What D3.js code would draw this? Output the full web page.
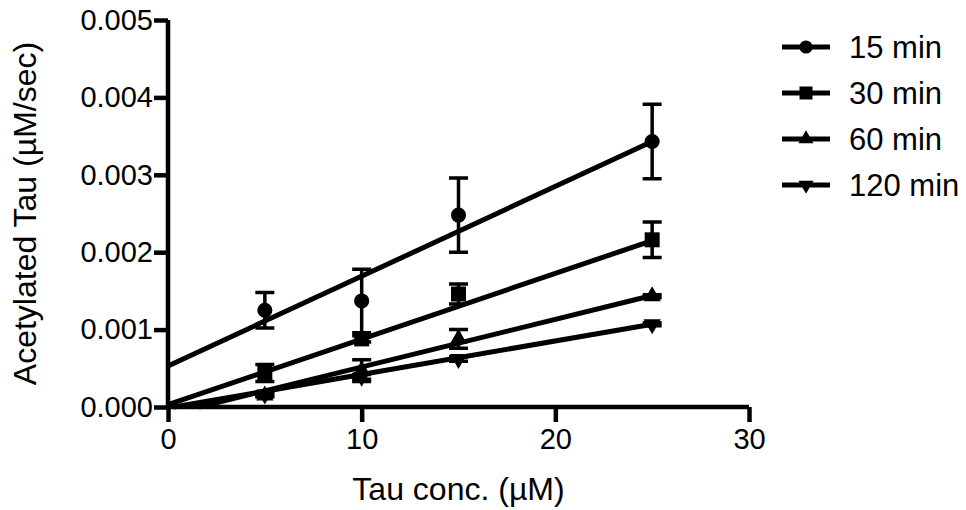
<!DOCTYPE html>
<html>
<head>
<meta charset="utf-8">
<script src="https://cdn.jsdelivr.net/npm/d3@7"></script>
<style>
  html, body { margin: 0; padding: 0; background: #fff; }
  svg { display: block; font-family: "Liberation Sans", Arial, sans-serif; }
</style>
</head>
<body>
<div id="viz"></div>
<script>
// Tau concentrations (µM) used for every time point
var concentrations = [5, 10, 15, 25];
var seriesNames = ["15 min", "30 min", "60 min", "120 min"];

// mean rate (µM/sec) and SD at each concentration
var means15 = [0.00125, 0.00137, 0.00248, 0.00343];
var sd15 = [0.00023, 0.00041, 0.00048, 0.00048];
var means30 = [0.00044, 0.00088, 0.00146, 0.00216];
var sd30 = [0.00011, 0.00004, 0.00013, 0.00023];
var means60 = [0.00015, 0.00047, 0.00088, 0.00143];
var sd60 = [0.00002, 0.00014, 0.00012, 0.00002];
var means120 = [0.00016, 0.00039, 0.00062, 0.00107];
var sd120 = [0.00002, 0.00003, 0.00003, 0.00002];

// linear fits, drawn from (fitStartX, fitStartY) to (25, fitEndY);
// fits with a negative intercept start where they cross zero
var fitStartX = [0, 0, 1.6, 0.3];
var fitStartY = [0.00053, 0.00003, 0, 0];
var fitEndX = 25;
var fitEndY = [0.00343, 0.00215, 0.00144, 0.00107];

var xTicks = [0, 10, 20, 30];
var yTicks = [0, 0.001, 0.002, 0.003, 0.004, 0.005];

var width = 966,
    height = 510;
var margin = {top: 20, right: 217, bottom: 103, left: 168};

var series = [
  {name: seriesNames[0], means: means15, sd: sd15, shape: d3.symbolCircle, size: 180, rot: 0},
  {name: seriesNames[1], means: means30, sd: sd30, shape: d3.symbolSquare, size: 225, rot: 0},
  {name: seriesNames[2], means: means60, sd: sd60, shape: d3.symbolTriangle, size: 130, rot: 0},
  {name: seriesNames[3], means: means120, sd: sd120, shape: d3.symbolTriangle, size: 130, rot: 180}
];
series.forEach(function(s, i) {
  s.fit = [[fitStartX[i], fitStartY[i]], [fitEndX, fitEndY[i]]];
});

var svg = d3.select("#viz").append("svg")
    .attr("width", width)
    .attr("height", height);

var x = d3.scaleLinear().domain([0, 30]).range([margin.left, width - margin.right]);
var y = d3.scaleLinear().domain([0, 0.005]).range([height - margin.bottom, margin.top]);

// axes
var xAxis = svg.append("g")
    .attr("transform", "translate(0," + y(0) + ")")
    .call(d3.axisBottom(x).tickValues(xTicks).tickSize(15).tickPadding(6).tickSizeOuter(0));
var yAxis = svg.append("g")
    .attr("transform", "translate(" + x(0) + ",0)")
    .call(d3.axisLeft(y).tickValues(yTicks).tickFormat(d3.format(".3f")).tickSize(14).tickPadding(1).tickSizeOuter(0));

[xAxis, yAxis].forEach(function(g) {
  g.select(".domain").attr("stroke", "#000").attr("stroke-width", 4.5);
  g.selectAll(".tick line").attr("stroke", "#000").attr("stroke-width", 4.5);
  g.selectAll(".tick text").attr("fill", "#000").style("font-size", "29px");
});
// square off the corner where the two axis lines meet
xAxis.select(".domain").attr("d", "M" + (x(0) - 2.25) + ",0H" + x(30));
yAxis.select(".domain").attr("d", "M0," + (y(0) + 2.25) + "V" + y(0.005));

// axis titles
svg.append("text")
    .attr("x", (x(0) + x(30)) / 2)
    .attr("y", 500)
    .attr("text-anchor", "middle")
    .style("font-size", "32px")
    .text("Tau conc. (µM)");

svg.append("text")
    .attr("transform", "translate(36," + (y(0) + y(0.005)) / 2 + ") rotate(-90)")
    .attr("text-anchor", "middle")
    .style("font-size", "32px")
    .text("Acetylated Tau (µM/sec)");

var line = d3.line()
    .x(function(d) { return x(d[0]); })
    .y(function(d) { return y(d[1]); });

var groups = svg.selectAll(".series")
    .data(series)
    .enter()
    .append("g")
    .attr("class", "series");

// error bars
groups.each(function(s) {
  var g = d3.select(this);
  var pts = concentrations.map(function(c, i) { return {x: c, m: s.means[i], sd: s.sd[i]}; });
  g.selectAll(".err")
    .data(pts)
    .enter()
    .append("path")
    .attr("d", function(d) {
      var cx = x(d.x), top = y(d.m + d.sd), bot = y(d.m - d.sd);
      return "M" + (cx - 9.5) + "," + top + "H" + (cx + 9.5) +
             "M" + cx + "," + top + "V" + bot +
             "M" + (cx - 9.5) + "," + bot + "H" + (cx + 9.5);
    })
    .attr("fill", "none")
    .attr("stroke", "#000")
    .attr("stroke-width", 3.5);
});

// fitted lines
groups.append("path")
    .attr("d", function(s) { return line(s.fit); })
    .attr("fill", "none")
    .attr("stroke", "#000")
    .attr("stroke-width", 5);

// markers
groups.each(function(s) {
  d3.select(this).selectAll(".pt")
    .data(s.means)
    .enter()
    .append("path")
    .attr("d", d3.symbol().type(s.shape).size(s.size))
    .attr("transform", function(d, i) {
      return "translate(" + x(concentrations[i]) + "," + y(d) + ") rotate(" + s.rot + ")";
    })
    .attr("fill", "#000");
});

// legend
var legend = svg.append("g").attr("transform", "translate(782,47)");
var items = legend.selectAll(".item")
    .data(series)
    .enter()
    .append("g")
    .attr("transform", function(d, i) { return "translate(0," + i * 46 + ")"; });

items.append("line")
    .attr("x1", 0)
    .attr("x2", 48)
    .attr("stroke", "#000")
    .attr("stroke-width", 5);
items.append("path")
    .attr("d", function(s) { return d3.symbol().type(s.shape).size(s.size * 0.75)(); })
    .attr("transform", function(s) { return "translate(24,0) rotate(" + s.rot + ")"; })
    .attr("fill", "#000");
items.append("text")
    .attr("x", 67)
    .attr("dy", "0.35em")
    .style("font-size", "31px")
    .text(function(s) { return s.name; });
</script>
</body>
</html>
